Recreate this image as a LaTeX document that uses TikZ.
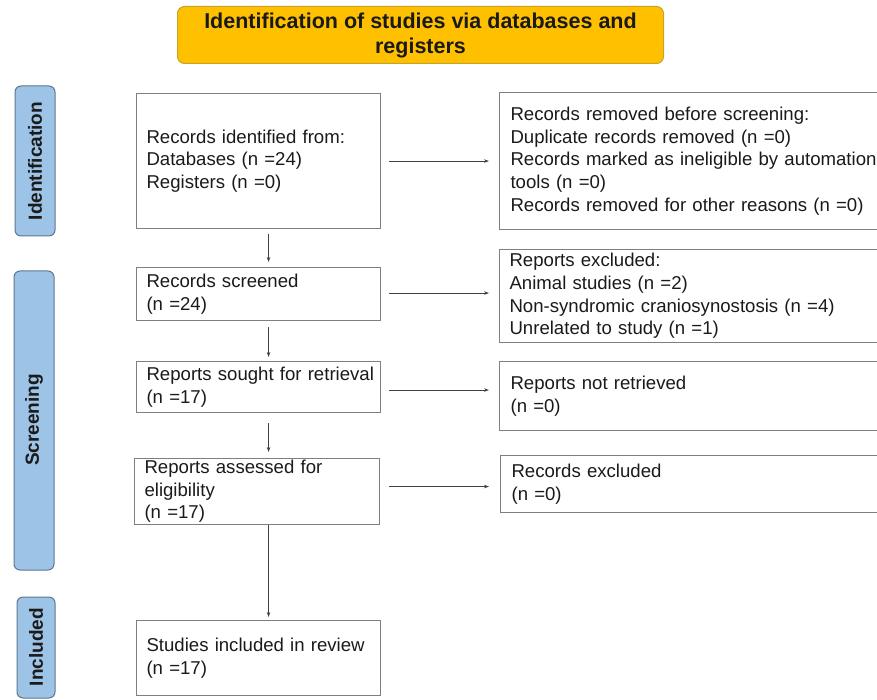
\documentclass[tikz,border=0pt]{standalone}
\usepackage{fontspec}
\setmainfont{Liberation Sans}
\usetikzlibrary{arrows.meta}
\hyphenpenalty=10000
\exhyphenpenalty=10000
\definecolor{titlefill}{HTML}{FFC000}
\definecolor{titleline}{HTML}{C9A227}
\definecolor{phasefill}{HTML}{9DC3E6}
\definecolor{phaseline}{HTML}{5E7891}
\definecolor{boxline}{HTML}{7F7F7F}
\definecolor{txt}{HTML}{1A1A1A}
\definecolor{arrowcol}{HTML}{404040}
\begin{document}
\begin{tikzpicture}[x=1pt,y=-1pt,
  box/.style={draw=boxline, line width=1.1pt, rectangle, anchor=north west,
    inner xsep=10pt, inner ysep=0pt, align=left, text=txt,
    font=\fontsize{18.6}{22.6}\selectfont},
  phase/.style={draw=phaseline, fill=phasefill, line width=1pt, rounded corners=6pt},
  phasetext/.style={rotate=90, font=\bfseries\fontsize{19}{22}\selectfont, text=txt},
  flow/.style={draw=arrowcol, line width=0.8pt, -{Stealth[length=5pt,width=3.5pt]}}
]
\clip (0,0) rectangle (877,700);
\useasboundingbox (0,0) rectangle (877,700);

% title
\node[draw=titleline, fill=titlefill, line width=1pt, rounded corners=7pt,
  anchor=north west, minimum width=486pt, minimum height=57pt, inner sep=0pt,
  align=center, text=txt, font=\bfseries\fontsize{21.5}{25}\selectfont]
  (title) at (177,6) {Identification of studies via databases and\\registers};

% phase bars
\draw[phase] (15,86) rectangle (55,236);
\node[phasetext] (pid) at (35,161) {Identification};
\draw[phase] (14,271) rectangle (54,570);
\node[phasetext] (pscr) at (34,420) {Screening};
\draw[phase] (17,597) rectangle (55,698);
\node[phasetext] (pinc) at (36,647) {Included};

% left column
\node[box, text width=224pt, minimum height=135pt] (A) at (136,93)
  {Records identified from:\\Databases (n =24)\\Registers (n =0)};
\node[box, text width=224pt, minimum height=53pt] (B) at (136,267)
  {Records screened\\(n =24)};
\node[box, text width=224pt, minimum height=51pt] (C) at (136,361)
  {\mbox{Reports sought for retrieval}\\(n =17)};
\node[box, text width=225pt, minimum height=66pt] (D) at (134,458)
  {Reports assessed for\\eligibility\\(n =17)};
\node[box, text width=224pt, minimum height=75pt] (E) at (136,620)
  {Studies included in review\\(n =17)};

% right column
\node[box, inner xsep=11pt, text width=370pt, minimum height=137pt] (R1) at (499,92)
  {Records removed before screening:\\Duplicate records removed (n =0)\\Records marked as ineligible by automation\\tools (n =0)\\Records removed for other reasons (n =0)};
\node[box, text width=370pt, minimum height=93pt] (R2) at (499,249)
  {Reports excluded:\\Animal studies (n =2)\\Non-syndromic craniosynostosis (n =4)\\Unrelated to study (n =1)};
\node[box, inner xsep=11pt, text width=370pt, minimum height=69pt] (R3) at (499,361)
  {Reports not retrieved\\(n =0)};
\node[box, inner xsep=11pt, text width=370pt, minimum height=57pt] (R4) at (500,455)
  {Records excluded\\(n =0)};

% horizontal arrows
\draw[flow, shorten <=8pt, shorten >=10pt] (A.east) -- (A.east -| R1.west);
\draw[flow, shorten <=8pt, shorten >=10pt] ([yshift=1pt]B.east) -- ([yshift=1pt]B.east -| R2.west);
\draw[flow, shorten <=8pt, shorten >=10pt] ([yshift=-3pt]C.east) -- ([yshift=-3pt]C.east -| R3.west);
\draw[flow, shorten <=9pt, shorten >=11pt] ([yshift=5pt]D.east) -- ([yshift=5pt]D.east -| R4.west);

% vertical arrows
\draw[flow, shorten <=5pt, shorten >=5pt] ([xshift=10pt]A.south) -- ([xshift=10pt]A.south |- B.north);
\draw[flow, shorten <=6pt, shorten >=4pt] ([xshift=10pt]B.south) -- ([xshift=10pt]B.south |- C.north);
\draw[flow, shorten <=10pt, shorten >=6pt] ([xshift=10pt]C.south) -- ([xshift=10pt]C.south |- D.north);
\draw[flow, shorten <=0pt, shorten >=3pt] ([xshift=11.5pt]D.south) -- ([xshift=11.5pt]D.south |- E.north);
\end{tikzpicture}
\end{document}
